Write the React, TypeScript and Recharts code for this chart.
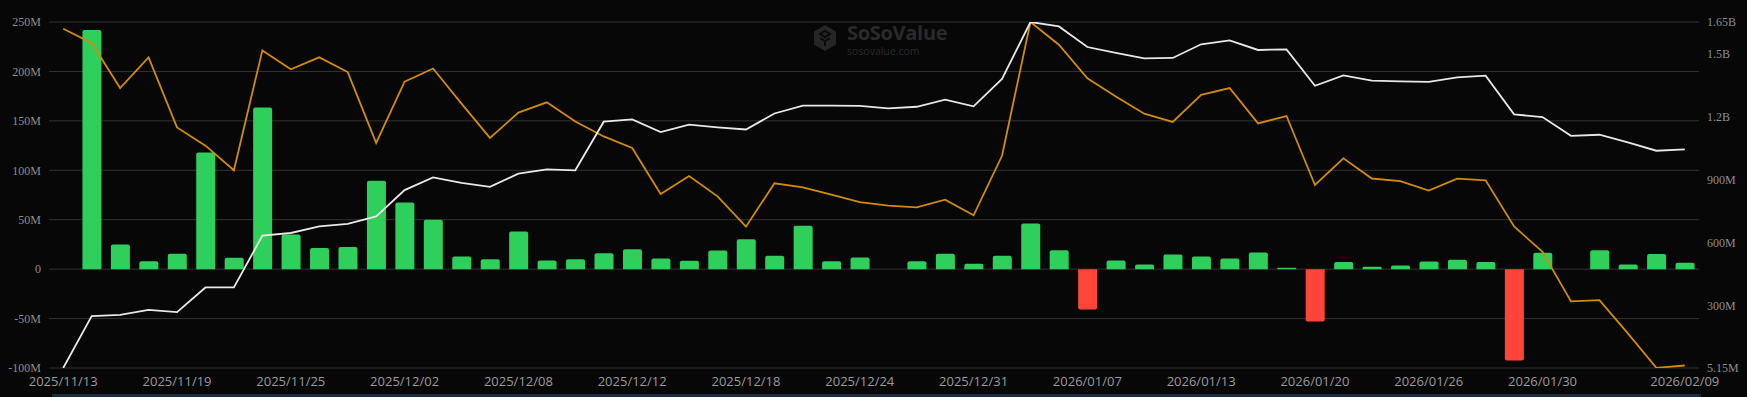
import { Bar, CartesianGrid, Cell, ComposedChart, Line, XAxis, YAxis } from "recharts";

const dates = [
  "2025/11/13", "2025/11/14", "2025/11/17", "2025/11/18", "2025/11/19", "2025/11/20", "2025/11/21",
  "2025/11/24", "2025/11/25", "2025/11/26", "2025/11/28", "2025/12/01", "2025/12/02", "2025/12/03",
  "2025/12/04", "2025/12/05", "2025/12/08", "2025/12/09", "2025/12/10", "2025/12/11", "2025/12/12",
  "2025/12/15", "2025/12/16", "2025/12/17", "2025/12/18", "2025/12/19", "2025/12/22", "2025/12/23",
  "2025/12/24", "2025/12/26", "2025/12/29", "2025/12/30", "2025/12/31", "2026/01/02", "2026/01/05",
  "2026/01/06", "2026/01/07", "2026/01/08", "2026/01/09", "2026/01/12", "2026/01/13", "2026/01/14",
  "2026/01/15", "2026/01/16", "2026/01/20", "2026/01/21", "2026/01/22", "2026/01/23", "2026/01/26",
  "2026/01/27", "2026/01/28", "2026/01/29", "2026/01/30", "2026/02/02", "2026/02/03", "2026/02/04",
  "2026/02/05", "2026/02/09",
];

// daily net inflow, millions (left axis)
const netInflow = [
  0, 242, 25, 8, 15.5, 118, 11.5, 163.6, 35, 21.5, 22.3, 89.3, 67.4, 49.9,
  12.8, 10.1, 38.1, 8.8, 10.1, 16.2, 20.2, 10.8, 8.4, 18.9, 30.3, 13.5, 43.8, 8.1, 11.8,
  0, 8.1, 15.5, 5.4, 13.5, 46.2, 19.2, -40.8, 8.8, 4.7, 14.8, 12.8, 10.8, 16.9, 1.3,
  -53, 7.3, 2.3, 3.6, 7.8, 9.4, 7.1, -92.5, 16.5, 0, 19.2, 4.7, 15.2, 6.4,
];

// white line, millions (right axis)
const totalNetAssets = [
  5.15, 252, 258, 281, 271, 388, 388, 634, 647, 678, 690, 726, 851, 911,
  885, 866, 929, 949, 945, 1176, 1187, 1127, 1162, 1149, 1139, 1215, 1252, 1252, 1251,
  1239, 1247, 1281, 1249, 1379, 1650, 1629, 1531, 1503, 1477, 1479, 1544, 1563, 1517, 1520,
  1347, 1396, 1371, 1368, 1365, 1387, 1395, 1211, 1198, 1109, 1114, 1078, 1038, 1044,
];

// orange line, millions (right axis)
const valueTraded = [
  1618, 1550, 1336, 1482, 1149, 1062, 945, 1515, 1425, 1482, 1412, 1075, 1366, 1429,
  1262, 1099, 1219, 1268, 1177, 1106, 1051, 832, 918, 821, 677, 883, 864, 829, 794,
  777, 769, 805, 731, 1014, 1650, 1542, 1382, 1296, 1214, 1175, 1304, 1336, 1168, 1203,
  875, 1002, 906, 894, 849, 905, 897, 678, 557, 322, 328, 170, 6, 17,
];

const leftTicks = [250, 200, 150, 100, 50, 0, -50, -100];
const rightTicks = [5.15, 300, 600, 900, 1200, 1500, 1650];
const shownDates = [
  "2025/11/13", "2025/11/19", "2025/11/25", "2025/12/02", "2025/12/08", "2025/12/12", "2025/12/18",
  "2025/12/24", "2025/12/31", "2026/01/07", "2026/01/13", "2026/01/20", "2026/01/26", "2026/01/30",
  "2026/02/09",
];

const data = dates.map((date, i) => ({
  date,
  inflow: netInflow[i],
  assets: totalNetAssets[i],
  traded: valueTraded[i],
}));

const axisFont = { fill: "#8c8c8c", fontSize: 12, fontFamily: "'Liberation Serif', serif" };

const DateTick = (props: any) => {
  const { x, y, payload } = props;
  if (!shownDates.includes(payload.value)) return <g />;
  return (
    <text x={x} y={y + 1} dy="0.71em" textAnchor="middle" fill="#9a9a9a" fontSize={13} fontFamily="'Open Sans', sans-serif">
      {payload.value}
    </text>
  );
};

const Watermark = () => (
  <div style={{ position: "absolute", left: 813, top: 24, display: "flex", alignItems: "flex-start", gap: 10 }}>
    <svg width={24} height={28} viewBox="0 0 24 28">
      <polygon points="12,1 23,7.5 23,20.5 12,27 1,20.5 1,7.5" fill="#262626" />
      <path d="M7 10 L12 7 L17 10 L12 13 Z M7 14 L12 17 L17 14 M12 17 L12 22" stroke="#0a0a0a" strokeWidth={2} fill="none" />
    </svg>
    <div style={{ fontFamily: "'Open Sans', sans-serif", color: "#2a2a2a" }}>
      <div style={{ fontSize: 20, fontWeight: 700, letterSpacing: -0.3, lineHeight: "18px" }}>SoSoValue</div>
      <div style={{ fontSize: 10.5, lineHeight: "11px", marginTop: 4 }}>sosovalue.com</div>
    </div>
  </div>
);

export default function App() {
  return (
    <div style={{ position: "absolute", left: 0, top: 0, width: 1747, height: 397, background: "#070707", overflow: "hidden" }}>
      <Watermark />
      <div style={{ position: "absolute", left: 0, top: 0 }}>
        <ComposedChart width={1747} height={397} data={data} margin={{ top: 22, right: 0, left: 0, bottom: 0 }}>
          <CartesianGrid yAxisId="left" vertical={false} stroke="#333333" />
          <XAxis
            dataKey="date"
            height={29}
            interval={0}
            axisLine={false}
            tickLine={false}
            tick={DateTick}
          />
          <YAxis
            yAxisId="left"
            orientation="left"
            width={49}
            domain={[-100, 250]}
            ticks={leftTicks}
            interval={0}
            axisLine={false}
            tickLine={false}
            tick={axisFont}
            tickFormatter={(v: number) => (v === 0 ? "0" : `${v}M`)}
          />
          <YAxis
            yAxisId="right"
            orientation="right"
            width={48}
            domain={[5.15, 1650]}
            ticks={rightTicks}
            interval={0}
            allowDataOverflow
            axisLine={false}
            tickLine={false}
            tick={axisFont}
            tickFormatter={(v: number) => (v >= 1000 ? `${v / 1000}B` : `${v}M`)}
          />
          <Bar yAxisId="left" dataKey="inflow" barSize={19} radius={[2, 2, 0, 0]} isAnimationActive={false}>
            {data.map((d, i) => (
              <Cell key={`bar-${i}`} fill={d.inflow >= 0 ? "#2ecf5a" : "#ff453a"} />
            ))}
          </Bar>
          <Line
            yAxisId="right"
            type="linear"
            dataKey="traded"
            stroke="#d08c08"
            strokeWidth={1.8}
            dot={false}
            isAnimationActive={false}
          />
          <Line
            yAxisId="right"
            type="linear"
            dataKey="assets"
            stroke="#e8e8e8"
            strokeWidth={1.8}
            dot={false}
            isAnimationActive={false}
          />
        </ComposedChart>
      </div>
      <div style={{ position: "absolute", left: 52, top: 394, width: 1649, height: 3, background: "#1c2a3e" }} />
    </div>
  );
}
